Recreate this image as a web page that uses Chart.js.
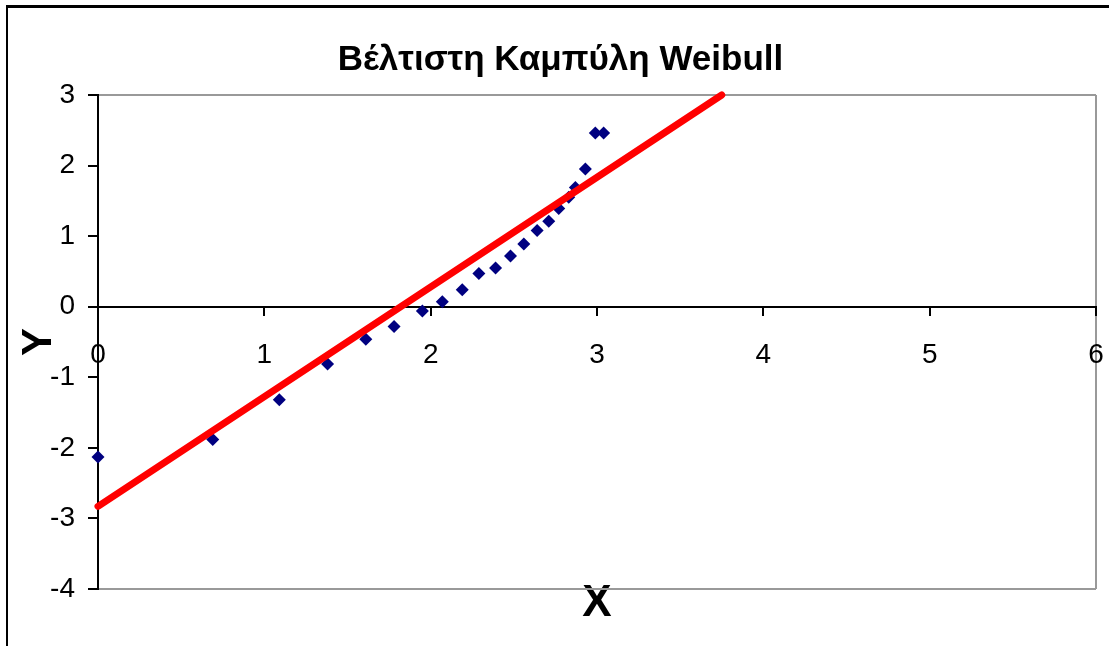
<!DOCTYPE html>
<html>
<head>
<meta charset="utf-8">
<script src="https://cdn.jsdelivr.net/npm/chart.js@4"></script>
<style>
  body { margin: 0; background: #fff; }
  #wrap { position: relative; width: 1109px; height: 646px; }
  #frame { position: absolute; left: 6px; top: 5px; right: -10px; bottom: -10px;
           border-left: 2px solid #000; border-top: 3px solid #000; pointer-events: none; }
</style>
</head>
<body>
<div id="wrap">
  <canvas id="weibull" width="1109" height="646"></canvas>
  <div id="frame"></div>
</div>
<script>
// σημεία (ln t, Y) όπως διαβάζονται από το γράφημα
const xVals = [0, 0.69, 1.09, 1.38, 1.61, 1.78, 1.95, 2.07, 2.19, 2.29, 2.39, 2.48, 2.56, 2.64, 2.71, 2.77, 2.83, 2.87, 2.93, 2.99, 3.04];
const yVals = [-2.13, -1.88, -1.32, -0.81, -0.46, -0.28, -0.06, 0.07, 0.24, 0.47, 0.55, 0.72, 0.89, 1.08, 1.21, 1.39, 1.55, 1.69, 1.95, 2.46, 2.46];

// βέλτιστη ευθεία
const fitX = [0, 3.75];
const fitY = [-2.83, 3];

const xTicks = [0, 1, 2, 3, 4, 5, 6];
const yTicks = [3, 2, 1, 0, -1, -2, -3, -4];

Chart.defaults.font.family = "'Liberation Sans', Arial, sans-serif";
Chart.defaults.color = '#000';

const points = xVals.map((x, i) => ({ x: x, y: yVals[i] }));
const fitLine = fitX.map((x, i) => ({ x: x, y: fitY[i] }));

// no extra side padding from the horizontal axes
function noSidePad(s) { s.paddingLeft = 0; s.paddingRight = 0; }

const ctx = document.getElementById('weibull').getContext('2d');
new Chart(ctx, {
  type: 'scatter',
  data: {
    datasets: [{
      type: 'line',
      label: 'fit',
      data: fitLine,
      borderColor: '#ff0000',
      borderWidth: 7,
      borderCapStyle: 'round',
      pointRadius: 0,
      fill: false,
      clip: false,
      order: 0
    }, {
      label: 'data',
      data: points,
      backgroundColor: '#000080',
      borderWidth: 0,
      pointStyle: 'rectRot',
      pointRadius: 6.5,
      clip: false,
      order: 1
    }]
  },
  options: {
    responsive: false,
    animation: false,
    layout: { padding: { left: 25, right: 13, top: 39, bottom: 27 } },
    plugins: {
      legend: { display: false },
      tooltip: { enabled: false },
      title: {
        display: true,
        text: 'Βέλτιστη Καμπύλη Weibull',
        font: { size: 35, weight: 'bold', lineHeight: 1.2 },
        color: '#000',
        padding: { top: 0, bottom: 14 }
      }
    },
    scales: {
      x: {
        type: 'linear',
        position: { y: 0 },
        min: 0,
        max: 6,
        afterBuildTicks: s => { s.ticks = xTicks.map(v => ({ value: v })); },
        afterFit: noSidePad,
        ticks: { font: { size: 28 }, padding: 24, color: '#000' },
        grid: {
          color: c => c.tick && c.tick.value === 6 ? '#999' : 'rgba(0,0,0,0)',
          lineWidth: 2,
          tickColor: '#000',
          tickLength: 8
        },
        border: { color: '#000', width: 2 }
      },
      x2: {
        type: 'linear',
        position: 'bottom',
        min: 0,
        max: 6,
        ticks: { display: false },
        grid: { display: false },
        border: { display: false },
        afterFit: s => { s.height = 30; noSidePad(s); },
        title: {
          display: true,
          text: 'X',
          font: { size: 44, weight: 'bold', lineHeight: 0.7 },
          color: '#000',
          padding: 0
        }
      },
      y: {
        type: 'linear',
        min: -4,
        max: 3,
        afterBuildTicks: s => { s.ticks = yTicks.map(v => ({ value: v })); },
        afterFit: s => { s.width = 73; },
        ticks: { font: { size: 28 }, padding: 13, color: '#000' },
        grid: {
          color: c => c.tick && (c.tick.value === 3 || c.tick.value === -4) ? '#999' : 'rgba(0,0,0,0)',
          lineWidth: 2,
          tickColor: '#000',
          tickLength: 10
        },
        border: { color: '#000', width: 2 },
        title: {
          display: true,
          text: 'Y',
          font: { size: 42, weight: 'bold', lineHeight: 0.7 },
          color: '#000',
          padding: 0
        }
      }
    }
  }
});
</script>
</body>
</html>
